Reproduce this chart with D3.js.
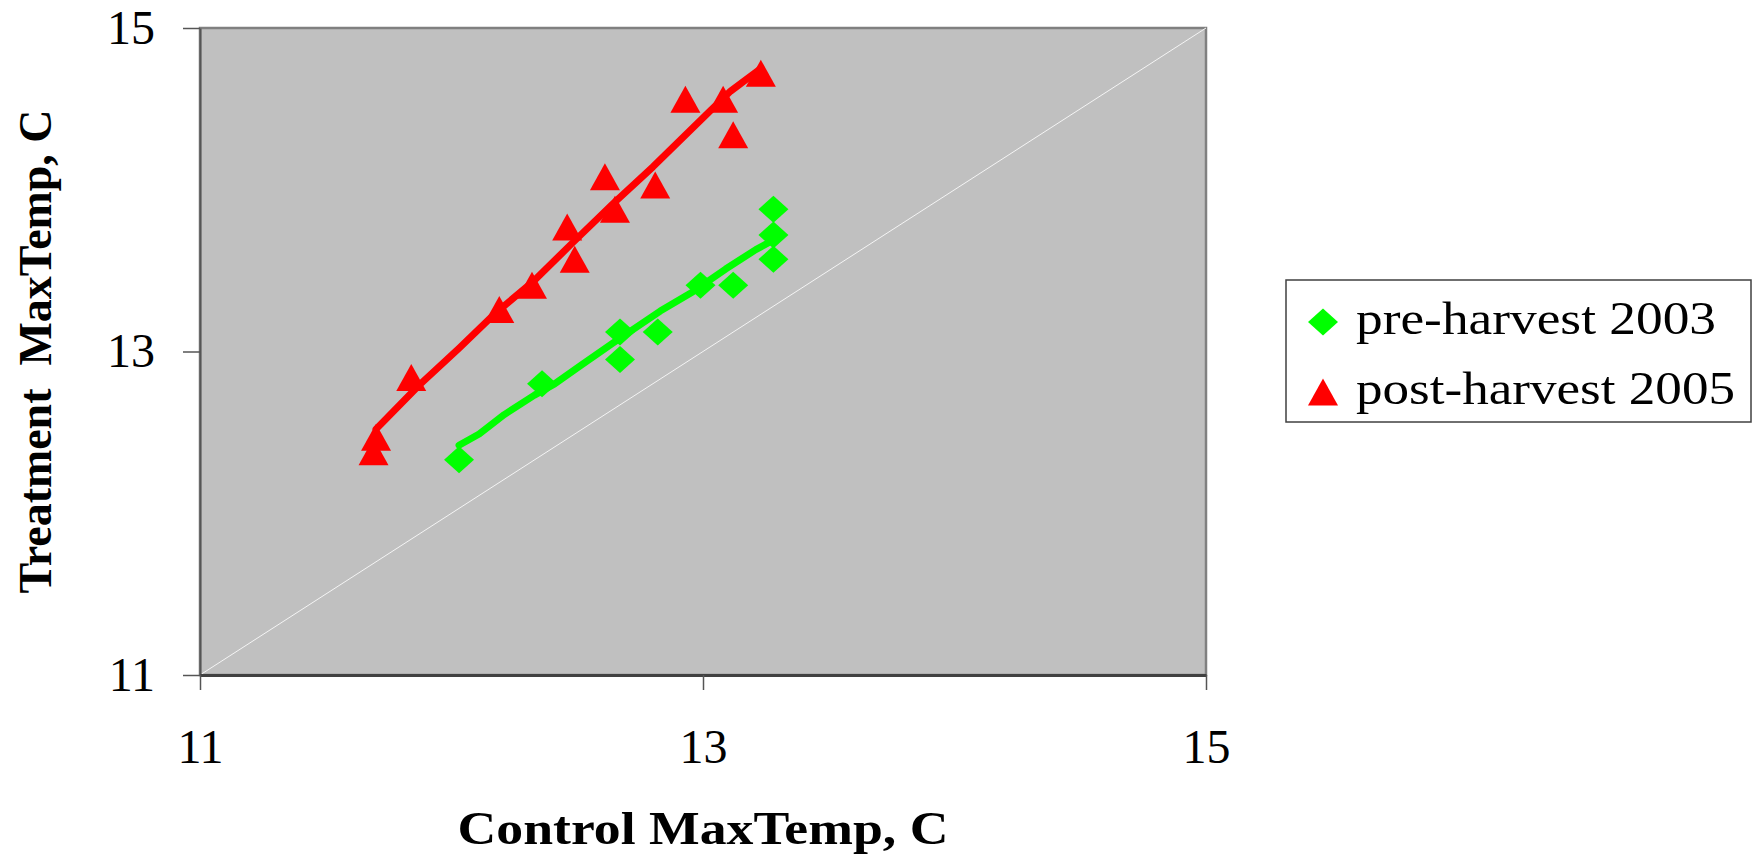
<!DOCTYPE html>
<html>
<head>
<meta charset="utf-8">
<script src="https://cdn.jsdelivr.net/npm/d3@7/dist/d3.min.js"></script>
<style>
  html, body { margin: 0; padding: 0; background: #fff; }
  svg { display: block; font-family: "Liberation Serif", "Times New Roman", serif; }
</style>
</head>
<body>
<svg id="chart" width="1759" height="862"></svg>
<script>
// pre-harvest 2003 (green diamonds)
const preX = [13.28, 13.28, 13.28, 12.99, 13.12, 12.67, 12.82, 12.67, 12.36, 12.03];
const preY = [13.88, 13.72, 13.57, 13.41, 13.41, 13.12, 13.12, 12.95, 12.80, 12.33];

// post-harvest 2005 (red triangles)
const postX = [13.23, 12.93, 13.08, 13.12, 12.61, 12.81, 12.65, 12.46, 12.49, 12.32, 12.19, 11.84, 11.70, 11.69];
const postY = [14.72, 14.56, 14.56, 14.34, 14.08, 14.03, 13.88, 13.77, 13.57, 13.41, 13.26, 12.84, 12.47, 12.38];

// trend lines, vertices
const preTrendX = [12.03, 12.11, 12.21, 12.33, 12.41, 12.51, 12.64, 12.83, 12.96, 13.09, 13.21, 13.27];
const preTrendY = [12.42, 12.49, 12.61, 12.73, 12.80, 12.91, 13.05, 13.25, 13.37, 13.51, 13.63, 13.68];
const postTrendX = [11.70, 11.87, 12.03, 12.17, 12.33, 12.48, 12.64, 12.80, 13.03, 13.11, 13.23];
const postTrendY = [12.52, 12.79, 13.02, 13.23, 13.44, 13.67, 13.91, 14.14, 14.49, 14.61, 14.75];

const seriesNames = ['pre-harvest 2003', 'post-harvest 2005'];
const seriesColors = ['#00ff00', '#ff0000'];
const xTicks = [11, 13, 15];
const yTicks = [11, 13, 15];
const xTitle = 'Control MaxTemp, C';
const yTitle = 'Treatment\u00a0\u00a0MaxTemp, C';

const margin = { top: 28, left: 200, right: 553, bottom: 187 };
const width = 1759;
const height = 862;

const svg = d3.select('#chart');

const x = d3.scaleLinear().domain([11, 15]).range([margin.left, width - margin.right]);
const y = d3.scaleLinear().domain([11, 15]).range([height - margin.bottom, margin.top]);

// marker shapes (Excel style: 30 wide, 27 high)
const MW = 30, MH = 27;
const diamond = `M0,${-MH / 2}L${MW / 2},0L0,${MH / 2}L${-MW / 2},0Z`;
const triangle = `M0,${-MH / 2}L${MW / 2},${MH / 2}L${-MW / 2},${MH / 2}Z`;

// plot area
svg.append('rect')
  .attr('x', x(11))
  .attr('y', y(15))
  .attr('width', x(15) - x(11))
  .attr('height', y(11) - y(15))
  .attr('fill', '#c0c0c0')
  .attr('stroke', '#808080')
  .attr('stroke-width', 2.5);

// 1:1 line
svg.append('line')
  .attr('x1', x(11)).attr('y1', y(11))
  .attr('x2', x(15)).attr('y2', y(15))
  .attr('stroke', '#f4f4f4')
  .attr('stroke-width', 1);

// axes
const fmt = d3.format('d');

const yAxis = svg.append('g')
  .attr('transform', `translate(${x(11)},0)`)
  .call(d3.axisLeft(y).tickValues(yTicks).tickFormat(fmt).tickSize(17).tickSizeOuter(0).tickPadding(28));

const xAxis = svg.append('g')
  .attr('transform', `translate(0,${y(11)})`)
  .call(d3.axisBottom(x).tickValues(xTicks).tickFormat(fmt).tickSize(15).tickSizeOuter(0).tickPadding(39));

yAxis.select('.domain').attr('stroke', '#555').attr('stroke-width', 2);
xAxis.select('.domain').attr('stroke', '#404040').attr('stroke-width', 3);
svg.selectAll('.tick line').attr('stroke', '#555').attr('stroke-width', 1.5);
svg.selectAll('.tick text')
  .attr('fill', '#000')
  .style('font-family', '"Liberation Serif", "Times New Roman", serif')
  .style('font-size', '48px');

// markers
svg.append('g')
  .selectAll('path')
  .data(d3.zip(preX, preY))
  .join('path')
  .attr('d', diamond)
  .attr('transform', (d) => `translate(${x(d[0])},${y(d[1])})`)
  .attr('fill', seriesColors[0]);

svg.append('g')
  .selectAll('path')
  .data(d3.zip(postX, postY))
  .join('path')
  .attr('d', triangle)
  .attr('transform', (d) => `translate(${x(d[0])},${y(d[1])})`)
  .attr('fill', seriesColors[1]);

// trend lines
const line = d3.line().x((d) => x(d[0])).y((d) => y(d[1]));

[[preTrendX, preTrendY, seriesColors[0]], [postTrendX, postTrendY, seriesColors[1]]].forEach(([tx, ty, c]) => {
  svg.append('path')
    .datum(d3.zip(tx, ty))
    .attr('d', line)
    .attr('fill', 'none')
    .attr('stroke', c)
    .attr('stroke-width', 7)
    .attr('stroke-linejoin', 'round')
    .attr('stroke-linecap', 'round');
});

// axis titles
svg.append('text')
  .attr('x', (x(11) + x(15)) / 2)
  .attr('y', 844)
  .attr('text-anchor', 'middle')
  .attr('font-weight', 'bold')
  .attr('font-size', 47)
  .attr('textLength', 491)
  .attr('lengthAdjust', 'spacingAndGlyphs')
  .text(xTitle);

svg.append('text')
  .attr('transform', `translate(51,${(y(11) + y(15)) / 2}) rotate(-90)`)
  .attr('text-anchor', 'middle')
  .attr('font-weight', 'bold')
  .attr('font-size', 47)
  .attr('textLength', 484)
  .attr('lengthAdjust', 'spacingAndGlyphs')
  .text(yTitle);

// legend
const legend = svg.append('g').attr('transform', 'translate(1286,280)');
legend.append('rect')
  .attr('width', 465)
  .attr('height', 142)
  .attr('fill', '#fff')
  .attr('stroke', '#404040')
  .attr('stroke-width', 1.5);

const legendTextLength = [360, 379];
seriesNames.forEach((name, i) => {
  const row = legend.append('g').attr('transform', `translate(0,${42 + i * 70})`);
  row.append('path')
    .attr('d', i === 0 ? diamond : triangle)
    .attr('transform', 'translate(37,0)')
    .attr('fill', seriesColors[i]);
  row.append('text')
    .attr('x', 70)
    .attr('y', 12)
    .attr('font-size', 46)
    .attr('textLength', legendTextLength[i])
    .attr('lengthAdjust', 'spacingAndGlyphs')
    .text(name);
});
</script>
</body>
</html>
